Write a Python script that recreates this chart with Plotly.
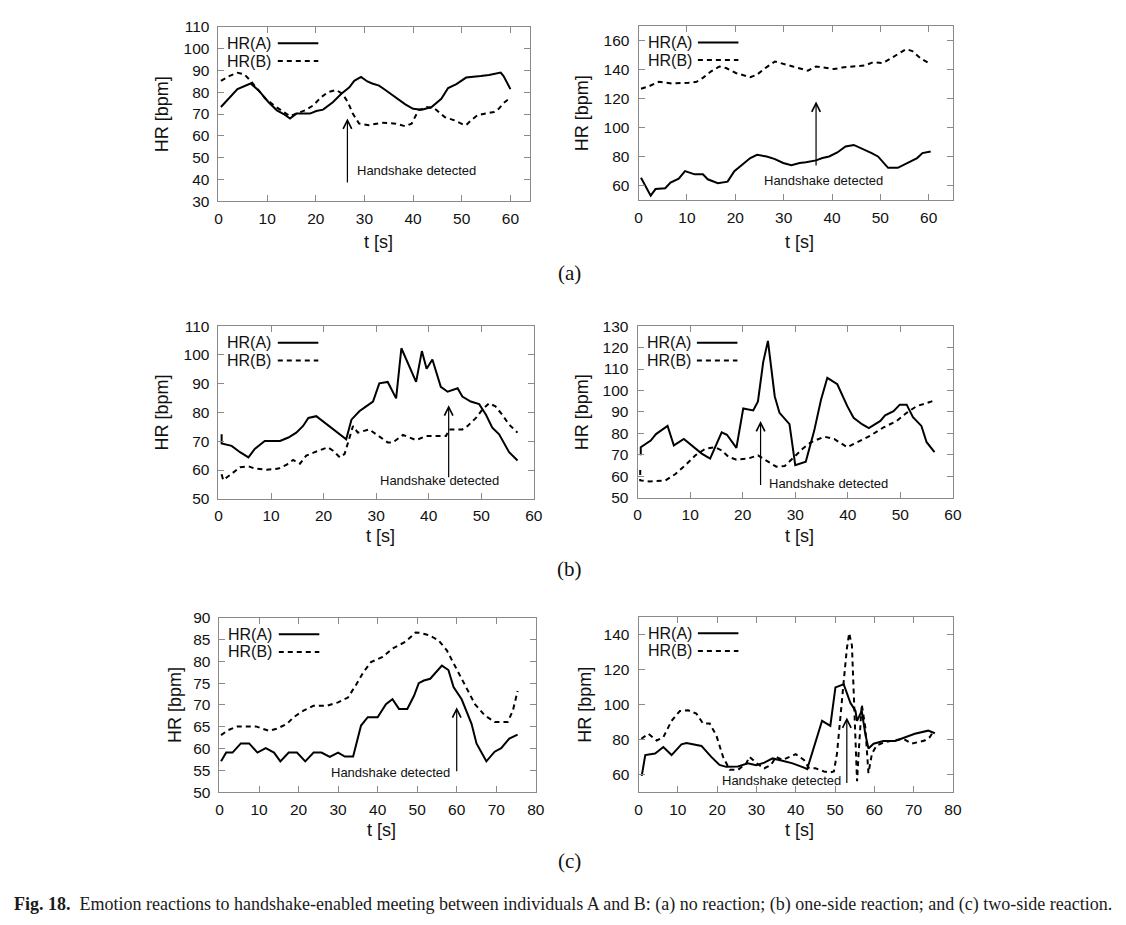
import plotly.graph_objects as go

W, H = 1126, 925

# ---------------- data ----------------
# (a) no reaction - left
a1_tA = [0.5, 3.9, 6.6, 8.3, 10.3, 12, 13.4, 14.7, 16, 18.8, 20.1, 21.5, 23.5, 25.2, 26.9, 27.9, 29.3, 30.6, 31.6, 33, 34.3, 36.4, 38.4, 40, 41.8, 43.8, 45.8, 47.2, 48.9, 50.9, 52.6, 53.9, 55.6, 57, 58, 58.6, 60]
a1_hrA = [73.2, 81.4, 84, 80.7, 75.4, 71.7, 70, 67.9, 70.2, 70.2, 71.4, 72, 75.4, 79.2, 82.2, 85.2, 87, 84.9, 84, 83, 81, 77.7, 74.4, 72.4, 72, 73.2, 77, 81.9, 83.7, 86.7, 87, 87.4, 87.9, 88.5, 89, 87.4, 81.4]
a1_tB = [0.5, 2.2, 3.9, 5.3, 6.6, 8, 9.7, 11.7, 13.4, 14.7, 16, 17.8, 19.5, 21.1, 22.5, 24.2, 25.5, 26.6, 27.6, 28.9, 30.9, 33.6, 36.4, 38.4, 39.7, 41.1, 42.8, 44.5, 46.5, 48.5, 50.2, 50.9, 51.9, 53.2, 54.9, 56.6, 57.6, 58.6, 59.7]
a1_hrB = [85.2, 87.4, 88.9, 88.2, 85.2, 81.4, 76.9, 73.5, 70.9, 69, 70.2, 71.7, 74, 77.7, 80, 81, 79.2, 75.4, 70.2, 65.6, 64.9, 66, 65.6, 64.4, 65.6, 71.7, 73.2, 72.4, 68.6, 67.1, 65.3, 64.9, 67.1, 69.4, 70.2, 70.9, 72.4, 75, 77]

# (a) no reaction - right
a2_tA = [0.5, 2.5, 3.5, 5.5, 6.6, 8.3, 9.6, 11.6, 13.3, 14.3, 16.4, 18.4, 19.8, 21.4, 23.1, 24.5, 26.5, 28.2, 29.9, 31.6, 33.3, 34.6, 36.7, 38, 39.4, 41.1, 42.8, 44.5, 46.1, 48.2, 49.5, 51.6, 53.6, 55.6, 57.6, 58.7, 60.4]
a2_hrA = [65.6, 53.3, 57.8, 58.4, 62.2, 65, 70.1, 67.9, 67.9, 64.5, 61.8, 62.9, 70.1, 74.6, 79.1, 81.3, 80.2, 78.4, 75.7, 74.2, 75.7, 76.2, 77.5, 79.1, 80.2, 82.9, 87, 88.1, 85.8, 82.5, 80.2, 72.4, 72.4, 75.7, 79.1, 82.5, 83.6]
a2_tB = [0.5, 2.2, 4.2, 6.9, 10.3, 12, 13.3, 15, 16.7, 18.1, 20.1, 21.8, 23.1, 24.5, 26.2, 28.2, 29.9, 31.9, 33.6, 35, 36.7, 38.7, 40.4, 42.1, 44.1, 46.8, 48.5, 50.5, 52.2, 53.9, 55.3, 56.6, 58.3, 60]
a2_hrB = [126.7, 128.5, 131.5, 130.3, 130.8, 131.5, 134.2, 138.7, 142, 140.9, 137.5, 136, 134.6, 136.4, 140.9, 145.4, 143.6, 142, 140.4, 139.1, 142, 141.3, 140.2, 141.3, 142, 142.7, 144.9, 144.3, 147.6, 151, 153.9, 152.6, 147.6, 144.3]

# (b) one-side reaction - left
b1_tA = [0.6, 0.6, 2.5, 4.1, 5.7, 6.9, 8.8, 11.7, 13.3, 14.8, 16.1, 17.1, 18.6, 20.2, 21.8, 23.7, 24.3, 25.3, 26.8, 28.1, 29.4, 30.6, 32.2, 33.8, 34.8, 37.6, 38.7, 39.6, 40.7, 42.3, 43.6, 45.5, 46.4, 48, 49.6, 50.9, 52.1, 53.4, 54.3, 55.3, 56.9]
b1_hrA = [72.4, 69.2, 68.4, 66.2, 64.4, 67.3, 70.1, 70.1, 71.3, 73, 75.3, 78.1, 78.7, 76.4, 74.1, 71.3, 70.7, 77.5, 80.4, 82.1, 83.8, 90.1, 90.6, 84.9, 102.3, 90.6, 101.3, 95.2, 98.4, 88.9, 87.2, 88.4, 85.5, 83.8, 82.9, 79.2, 74.7, 72.4, 69.6, 66.2, 63.3]
b1_tB = [0.6, 0.9, 2.5, 4.1, 5.7, 6.9, 9.2, 11.4, 13, 14.2, 15.5, 16.7, 18.3, 19.9, 20.8, 21.8, 23.1, 24, 24.6, 25.6, 26.5, 28.7, 30, 32.2, 33.2, 35.1, 37.6, 39.5, 43.3, 43.9, 46.4, 47.4, 49, 50.2, 51.5, 52.7, 54, 55.3, 56.9]
b1_hrB = [58.5, 56.5, 58.7, 61, 61.3, 60.5, 60.1, 60.5, 61.9, 63.5, 62.2, 65, 66.2, 67.3, 67.9, 66.7, 64.4, 65.6, 69.6, 75.3, 73, 74.1, 72.4, 69.6, 69.6, 72.2, 70.4, 71.8, 71.8, 74.1, 74.1, 75.3, 78.1, 81, 83.2, 82.1, 79.2, 75.8, 73]

# (b) one-side reaction - right
b2_tA = [0.6, 0.6, 2.5, 3.5, 5.7, 6.9, 8.8, 10.4, 12.2, 13.8, 16, 17, 18.8, 20.1, 22, 22.9, 23.9, 24.8, 26.1, 27, 28.9, 30, 32, 33.6, 34.9, 36.1, 38, 39.9, 41.1, 42.7, 44, 46.2, 47.1, 48.7, 49.9, 51.2, 52.4, 54, 55, 56.5]
b2_hrA = [69.8, 73.6, 76.7, 79.7, 83.5, 74.4, 77.4, 74.4, 70.6, 68.3, 80.5, 79.4, 73.3, 91.6, 90.7, 94.9, 113.2, 123.1, 97.2, 89.6, 84.3, 65.2, 66.8, 81.2, 95.7, 105.9, 102.9, 92.7, 87.3, 84.3, 82.5, 85.8, 88.4, 90.4, 93.4, 93.4, 87.6, 83.5, 75.9, 71.3]
b2_tB = [0.5, 0.5, 2.2, 5.3, 7.2, 9.1, 11, 12.9, 14.7, 16, 17.3, 18.8, 21, 22.9, 24.2, 26.4, 28, 29.8, 31.4, 33, 35.5, 37.4, 39.9, 41.8, 44.3, 46.8, 49.3, 51.2, 53.1, 55.6, 56.8]
b2_hrB = [63, 58.1, 57.6, 58.1, 61.1, 65.2, 69.8, 72.9, 73.6, 72.1, 69.1, 67.8, 68.3, 69.8, 67.8, 64.5, 64.8, 69.1, 72.9, 75.9, 78.5, 77.4, 73.6, 75.9, 79, 82.8, 85.8, 89.6, 92.7, 94.6, 95.7]

# (c) two-side reaction - left
c1_tA = [0.4, 1.7, 3.3, 5.4, 7.5, 9.6, 11.7, 13.8, 15.4, 17.5, 19.6, 21.7, 23.8, 25.8, 27.9, 30, 31.7, 33.8, 35.8, 37.5, 40, 42.1, 43.75, 45.4, 47.5, 49.2, 50.4, 51.7, 53.3, 54.6, 56.25, 57.9, 59.2, 61.25, 62.5, 63.75, 65, 67.5, 69.6, 71.25, 73.3, 75.4]
c1_hrA = [57.1, 59.1, 59.1, 61.2, 61.2, 59.1, 60.1, 59.1, 57.1, 59.1, 59.1, 57.1, 59.1, 59.1, 58.1, 59.1, 58.2, 58.2, 65.3, 67.2, 67.2, 70.2, 71.3, 69.1, 69.1, 72.1, 75, 75.6, 76, 77.3, 79, 78, 74.1, 71.3, 68.7, 65.7, 61.2, 57.1, 59.3, 60.1, 62.3, 63.2]
c1_tB = [0.4, 2.1, 4.6, 9.2, 10.8, 12.5, 14.6, 17.1, 18.75, 21.25, 23.75, 27.1, 30, 32.5, 34.6, 36.25, 38.3, 41.25, 43.75, 47.1, 49.6, 50.8, 52.9, 55.4, 57.5, 59.6, 62.1, 64.6, 67.1, 69.6, 72.9, 74.2, 75.4]
c1_hrB = [63.1, 64.2, 65.1, 65.1, 64.6, 64.1, 64.6, 65.7, 67.2, 68.7, 69.8, 69.8, 70.6, 71.7, 74.7, 77.3, 79.8, 81, 82.9, 84.5, 86.6, 86.5, 86, 84.8, 82.5, 78.8, 74.3, 70.2, 67.6, 66.1, 66.1, 68.7, 73.2]

# (c) two-side reaction - right
c2_tA = [0.8, 1.7, 4.2, 6.3, 8.4, 10.9, 12.2, 16, 18.5, 20.6, 22.3, 25.3, 27.8, 29.9, 32, 34.1, 36.6, 39.2, 42.1, 42.9, 46.7, 48.8, 50.1, 52.2, 53.9, 55.2, 55.6, 56.8, 57.7, 58.5, 59.8, 62.3, 65.3, 67.8, 70.3, 73.7, 75.4]
c2_hrA = [59.4, 71.2, 72.1, 75.8, 71.2, 77.3, 78, 76.4, 70.2, 65.6, 64.5, 64.7, 66.5, 65.4, 66.9, 69.3, 68, 66.5, 64.1, 63.2, 90.7, 87.9, 109.7, 111.5, 100.9, 96.3, 90.7, 96.3, 83.3, 74.9, 77.7, 79.2, 79.2, 81.4, 83.3, 85.1, 83.6]
c2_tB = [0.7, 2.5, 4.6, 6.3, 8.4, 10.5, 12.6, 14.7, 16.4, 18.1, 19.8, 21.5, 23.2, 25.3, 27.4, 28.2, 30.3, 32, 33.7, 35, 36.6, 38.3, 40, 42.1, 43.4, 45, 47.2, 48.8, 49.7, 50.5, 51.4, 52.2, 53, 53.6, 54.3, 55.2, 55.6, 56, 56.8, 57.7, 58.5, 59.4, 60.6, 62.7, 65.3, 67.4, 69.5, 71.2, 72.8, 74.1, 74.9]
c2_hrB = [80.5, 83.3, 79.5, 81.4, 90.7, 96.3, 96.7, 94.8, 89.2, 89.2, 82.3, 70.2, 62.8, 62.8, 66.5, 70.2, 66.1, 63.7, 65.6, 70.2, 68.4, 69.9, 71.7, 68.4, 63.7, 63.7, 61.9, 61.3, 61.9, 72.1, 96.3, 113, 131.6, 140.6, 133.5, 83.3, 56.3, 72.1, 100, 87, 60.9, 72.1, 76.7, 78.6, 79.5, 80.5, 77.7, 78.6, 79.5, 81.4, 84.2]

# handshake annotations: (arrow x, tail y, head y, text x, text y, anchor)
hs_a1 = (26.5, 38, 68, 28, 44, "left")
hs_a2 = (36.7, 73, 118, 38.2, 63.4, "center")
hs_b1 = (43.8, 57, 82.5, 42, 56.3, "center")
hs_b2 = (23.4, 55.3, 85.8, 24.7, 56.9, "left")
hs_c1 = (60, 54.5, 69.5, 58.8, 54.6, "right")
hs_c2 = (53, 54.4, 92.6, 52.1, 56.7, "right")

LABEL_A = "HR(A)"
LABEL_B = "HR(B)"
Y_TITLE = "HR [bpm]"
X_TITLE = "t [s]"
HS_TEXT = "Handshake detected"

# ---------------- layout helpers ----------------
def fx(x):
    return x / W

def fy(y):
    return 1 - y / H

SANS = "Liberation Sans, Arial, sans-serif"
SERIF = "Liberation Serif, Times New Roman, serif"
GRAY = "#8a8a8a"

panels = [
    dict(tA=a1_tA, hA=a1_hrA, tB=a1_tB, hB=a1_hrB, hs=hs_a1, box=(217, 532, 18, 196), xr=[0, 64], yr=[30, 110], ydt=10, ytitle_x=160, xtitle_y=237),
    dict(tA=a2_tA, hA=a2_hrA, tB=a2_tB, hB=a2_hrB, hs=hs_a2, box=(642, 960, 17, 195), xr=[0, 65], yr=[50, 170], ydt=20, ytitle_x=585, xtitle_y=237),
    dict(tA=b1_tA, hA=b1_hrA, tB=b1_tB, hB=b1_hrB, hs=hs_b1, box=(217, 536, 323, 499), xr=[0, 60], yr=[50, 110], ydt=10, ytitle_x=160, xtitle_y=537),
    dict(tA=b2_tA, hA=b2_hrA, tB=b2_tB, hB=b2_hrB, hs=hs_b2, box=(641, 960, 323, 498), xr=[0, 60], yr=[50, 130], ydt=10, ytitle_x=585, xtitle_y=537),
    dict(tA=c1_tA, hA=c1_hrA, tB=c1_tB, hB=c1_hrB, hs=hs_c1, box=(218, 538, 620, 798), xr=[0, 80], yr=[50, 90], ydt=5, ytitle_x=173, xtitle_y=836),
    dict(tA=c2_tA, hA=c2_hrA, tB=c2_tB, hB=c2_hrB, hs=hs_c2, box=(642, 960, 619, 798), xr=[0, 80], yr=[50, 150], ydt=20, ytitle_x=588, xtitle_y=836),
]

fig = go.Figure()
annotations = []
shapes = []

for i, p in enumerate(panels, start=1):
    sfx = "" if i == 1 else str(i)
    xa, ya = "x" + sfx, "y" + sfx
    x0, x1, y0, y1 = p["box"]

    fig.add_trace(go.Scatter(x=p["tA"], y=p["hA"], mode="lines", xaxis=xa, yaxis=ya,
                             line=dict(color="black", width=2), showlegend=False, name=LABEL_A))
    fig.add_trace(go.Scatter(x=p["tB"], y=p["hB"], mode="lines", xaxis=xa, yaxis=ya,
                             line=dict(color="black", width=2, dash="5px,4px"), showlegend=False, name=LABEL_B))

    axis_common = dict(showgrid=False, zeroline=False, showline=True, linecolor=GRAY, linewidth=1,
                       mirror="allticks", ticks="inside", ticklen=6, tickwidth=1, tickcolor=GRAY,
                       tickfont=dict(family=SANS, size=15.5, color="#111"))
    fig.update_layout(**{
        ("xaxis" + sfx): dict(axis_common, domain=[fx(x0), fx(x1)], range=p["xr"], dtick=10, tick0=0,
                               anchor=ya, ticklabelstandoff=3),
        ("yaxis" + sfx): dict(axis_common, domain=[fy(y1), fy(y0)], range=p["yr"], dtick=p["ydt"], tick0=0,
                               anchor=xa, ticklabelstandoff=5),
    })

    # axis titles
    annotations.append(dict(text=Y_TITLE, xref="paper", yref="paper", x=fx(p["ytitle_x"]), y=fy((y0 + y1) / 2),
                            showarrow=False, textangle=-90, xanchor="center", yanchor="middle",
                            font=dict(family=SANS, size=18, color="#111")))
    annotations.append(dict(text=X_TITLE, xref="paper", yref="paper", x=fx((x0 + x1) / 2 + 4), y=fy(p["xtitle_y"]),
                            showarrow=False, xanchor="center", yanchor="middle",
                            font=dict(family=SANS, size=18, color="#111")))

    # key (text left, sample right)
    for lbl, dy, dash in ((LABEL_A, 17, "solid"), (LABEL_B, 35, "5px,4px")):
        annotations.append(dict(text=lbl, xref="paper", yref="paper", x=fx(x0 + 7), y=fy(y0 + dy),
                                showarrow=False, xanchor="left", yanchor="middle",
                                font=dict(family=SANS, size=16, color="#111")))
        shapes.append(dict(type="line", xref="paper", yref="paper", x0=fx(x0 + 60), x1=fx(x0 + 101),
                           y0=fy(y0 + dy), y1=fy(y0 + dy), line=dict(color="black", width=2, dash=dash)))

    # handshake arrow + text
    hx, ht, hh, tx, ty, anc = p["hs"]
    annotations.append(dict(text="", xref=xa, yref=ya, axref=xa, ayref=ya, x=hx, y=hh, ax=hx, ay=ht,
                            showarrow=True, arrowhead=5, arrowsize=1.4, arrowwidth=1.2, arrowcolor="black"))
    annotations.append(dict(text=HS_TEXT, xref=xa, yref=ya, x=tx, y=ty, showarrow=False,
                            xanchor=anc, yanchor="middle", font=dict(family=SANS, size=13, color="#111")))

# sub-figure labels
for lbl, yy in (("(a)", 269), ("(b)", 570), ("(c)", 868)):
    annotations.append(dict(text=lbl, xref="paper", yref="paper", x=fx(572), y=fy(yy), showarrow=False,
                            xanchor="center", yanchor="middle", font=dict(family=SERIF, size=21, color="#111")))

CAPTION = ("<b>Fig. 18.</b>  Emotion reactions to handshake-enabled meeting between individuals A and B: "
           "(a) no reaction; (b) one-side reaction; and (c) two-side reaction.")
annotations.append(dict(text=CAPTION, xref="paper", yref="paper", x=fx(8), y=fy(912), showarrow=False,
                        xanchor="left", yanchor="middle", font=dict(family=SERIF, size=18, color="#1a1a1a")))

fig.update_layout(width=W, height=H, margin=dict(l=0, r=0, t=0, b=0),
                  paper_bgcolor="white", plot_bgcolor="white",
                  annotations=annotations, shapes=shapes, showlegend=False)

fig.write_html("out.html")
